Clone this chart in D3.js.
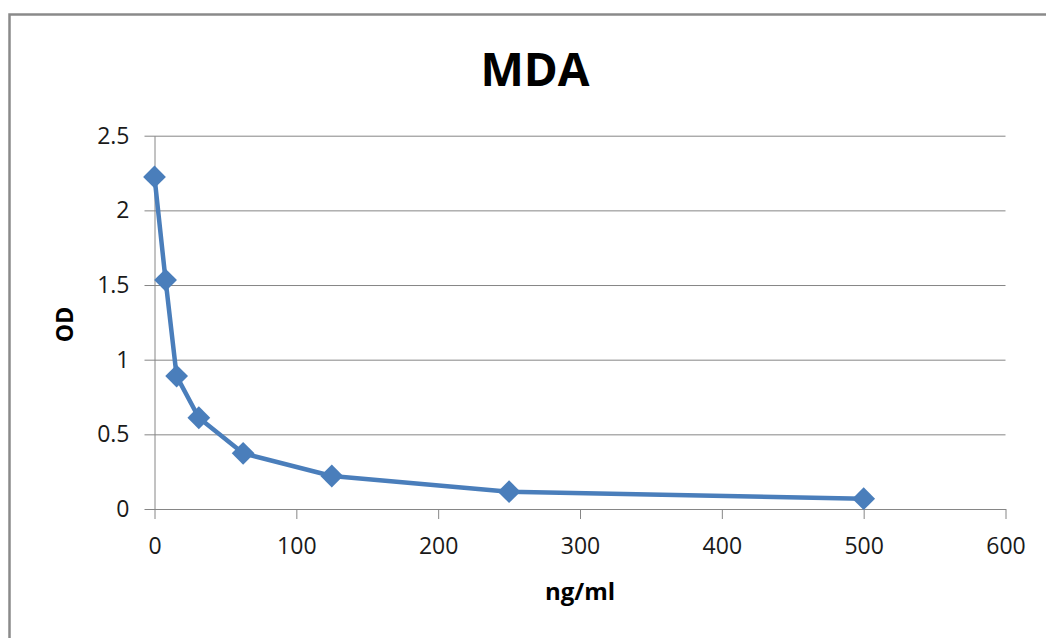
<!DOCTYPE html>
<html>
<head>
<meta charset="utf-8">
<script src="https://cdn.jsdelivr.net/npm/d3@7"></script>
<style>
  html, body { margin: 0; padding: 0; background: #fff; }
  svg { display: block; }
  text { font-family: "Open Sans", "Liberation Sans", sans-serif; }
</style>
</head>
<body>
<svg id="chart" width="1046" height="638"></svg>
<script>
// ---- data ----
const concentrations = [0, 7.8, 15.6, 31.25, 62.5, 125, 250, 500]; // ng/ml
const odValues = [2.224, 1.533, 0.89, 0.611, 0.373, 0.221, 0.116, 0.069];
const xTicks = [0, 100, 200, 300, 400, 500, 600];
const yTicks = [0, 0.5, 1, 1.5, 2, 2.5];
const chartTitle = "MDA";
const xLabel = "ng/ml";
const yLabel = "OD";

// ---- layout ----
const W = 1046, H = 638;
const plot = { left: 154.5, right: 1005.5, top: 135.7, bottom: 509 };
const gridColor = "#868686";
const seriesColor = "#4A7EBB";

const svg = d3.select("#chart");
svg.append("rect").attr("width", W).attr("height", H).attr("fill", "#fff");

// chart-area border
svg.append("rect")
  .attr("x", 9.5).attr("y", 14.5)
  .attr("width", 1200).attr("height", 800)
  .attr("fill", "none").attr("stroke", "#8a8a8a").attr("stroke-width", 2.5);

const x = d3.scaleLinear().domain([0, 600]).range([plot.left, plot.right]);
const y = d3.scaleLinear().domain([0, 2.5]).range([plot.bottom, plot.top]);

// y axis with gridlines
const yAxis = d3.axisLeft(y)
  .tickValues(yTicks)
  .tickSize(-(plot.right - plot.left))
  .tickSizeOuter(0)
  .tickPadding(15)
  .tickFormat(d => String(d));
const gy = svg.append("g").attr("transform", `translate(${plot.left},0)`).call(yAxis);
gy.select(".domain").attr("stroke", gridColor);
gy.selectAll(".tick line").attr("stroke", gridColor).attr("stroke-width", 1)
  .attr("x1", -10);
gy.selectAll(".tick text")
  .attr("x", -25)
  .attr("font-size", 23).attr("fill", "#1a1a1a")
  .attr("font-family", "'Open Sans', sans-serif");

// x axis
const xAxis = d3.axisBottom(x)
  .tickValues(xTicks)
  .tickSize(10)
  .tickSizeOuter(0)
  .tickPadding(19)
  .tickFormat(d => String(d));
const gx = svg.append("g").attr("transform", `translate(0,${plot.bottom})`).call(xAxis);
gx.select(".domain").attr("stroke", gridColor);
gx.selectAll(".tick line").attr("stroke", gridColor).attr("stroke-width", 1);
gx.selectAll(".tick text")
  .attr("font-size", 23).attr("fill", "#1a1a1a")
  .attr("font-family", "'Open Sans', sans-serif");

// series line
const pts = concentrations.map((c, i) => [c, odValues[i]]);
const line = d3.line().x(d => x(d[0])).y(d => y(d[1]));
svg.append("path")
  .datum(pts)
  .attr("d", line)
  .attr("fill", "none")
  .attr("stroke", seriesColor)
  .attr("stroke-width", 4.5)
  .attr("stroke-linejoin", "round");

// diamond markers
const diamond = d3.symbol().type(d3.symbolSquare).size(260);
svg.append("g").selectAll("path")
  .data(pts)
  .join("path")
  .attr("d", diamond)
  .attr("transform", d => `translate(${x(d[0])},${y(d[1])}) rotate(45)`)
  .attr("fill", seriesColor);

// title
svg.append("text")
  .attr("x", 535).attr("y", 86)
  .attr("text-anchor", "middle")
  .attr("font-size", 46).attr("font-weight", "bold").attr("fill", "#000")
  .text(chartTitle);

// x label
svg.append("text")
  .attr("x", 580).attr("y", 600)
  .attr("text-anchor", "middle")
  .attr("font-size", 24).attr("font-weight", "bold").attr("fill", "#000")
  .text(xLabel);

// y label
svg.append("text")
  .attr("transform", "translate(73,324.5) rotate(-90)")
  .attr("text-anchor", "middle")
  .attr("font-size", 23).attr("font-weight", "bold").attr("fill", "#000")
  .text(yLabel);
</script>
</body>
</html>
